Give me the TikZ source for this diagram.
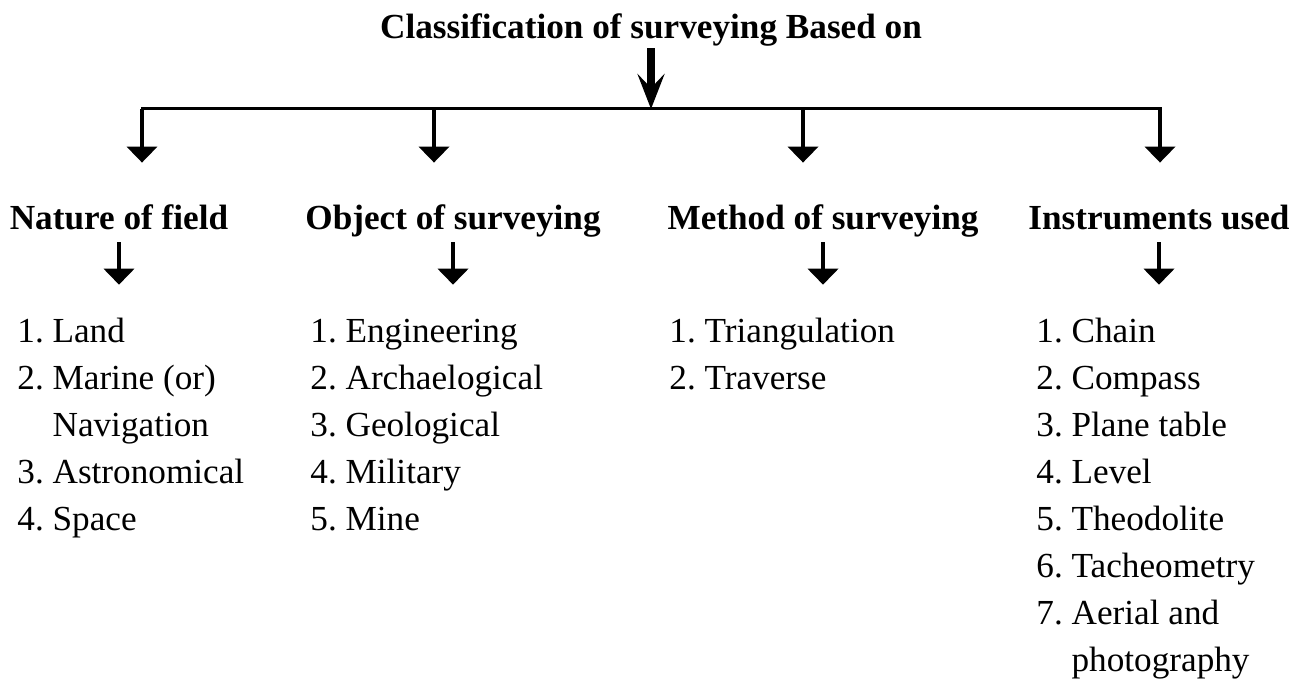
\documentclass[tikz,border=0pt]{standalone}
\usepackage{fontspec}
\setmainfont{Liberation Serif}
\usepackage{tikz}
\usetikzlibrary{arrows.meta}
\newcommand{\txtsize}{\fontsize{17.6pt}{23.5pt}\selectfont}

\begin{document}
\begin{tikzpicture}[
    x=0.5pt, y=-0.5pt,
    every node/.style={font=\txtsize},
    head/.style={anchor=base, inner sep=0pt, font=\txtsize\bfseries, text height=12pt, text depth=6pt},
    items/.style={anchor=base west, inner sep=0pt},
    bar/.style={line width=1.5pt, line cap=rect},
    down/.style={-{Triangle[length=8pt, width=15pt]}, line width=2pt},
    main/.style={-{Stealth[length=17.5pt, width=13.5pt, inset=7pt]}, line width=4pt},
]
    \useasboundingbox (0,0) rectangle (1300,683);

    % Title
    \node[head, text depth=4.5pt] (title) at (651,39) {Classification of surveying Based on};

    % Headings
    \node[head] (nat) at (119,230) {Nature of field};
    \node[head] (obj) at (453,230) {Object of surveying};
    \node[head] (met) at (823,230) {Method of surveying};
    \node[head] (ins) at (1159,230) {Instruments used};

    % Lists
    \node[items] (natl) at (17,343) {\begin{tabular}[t]{@{}l@{\ }l@{}}
        1. & Land\\ 2. & Marine (or)\\ & Navigation\\ 3. & Astronomical\\ 4. & Space
    \end{tabular}};
    \node[items] (objl) at (310,343) {\begin{tabular}[t]{@{}l@{\ }l@{}}
        1. & Engineering\\ 2. & Archaelogical\\ 3. & Geological\\ 4. & Military\\ 5. & Mine
    \end{tabular}};
    \node[items] (metl) at (669,343) {\begin{tabular}[t]{@{}l@{\ }l@{}}
        1. & Triangulation\\ 2. & Traverse
    \end{tabular}};
    \node[items] (insl) at (1036,343) {\begin{tabular}[t]{@{}l@{\ }l@{}}
        1. & Chain\\ 2. & Compass\\ 3. & Plane table\\ 4. & Level\\ 5. & Theodolite\\
        6. & Tacheometry\\ 7. & Aerial and\\ & photography
    \end{tabular}};

    % Bar
    \coordinate (b1) at (142,109);
    \coordinate (b2) at (434,109);
    \coordinate (b3) at (803,109);
    \coordinate (b4) at (1160,109);
    \draw[bar] (b1) -- (b4);
    \draw[main] (title.south) -- (title.south |- b1);

    % Arrows
    \draw[down, shorten >=21.5pt] (b1) -- (b1 |- nat.north);
    \draw[down, shorten >=21.5pt] (b2) -- (b2 |- obj.north);
    \draw[down, shorten >=21.5pt] (b3) -- (b3 |- met.north);
    \draw[down, shorten >=21.5pt] (b4) -- (b4 |- ins.north);
    \draw[down, shorten >=12.5pt] (nat.south) -- (nat.south |- natl.north);
    \draw[down, shorten >=12.5pt] (obj.south) -- (obj.south |- objl.north);
    \draw[down, shorten >=12.5pt] (met.south) -- (met.south |- metl.north);
    \draw[down, shorten >=12.5pt] (ins.south) -- (ins.south |- insl.north);
\end{tikzpicture}
\end{document}
